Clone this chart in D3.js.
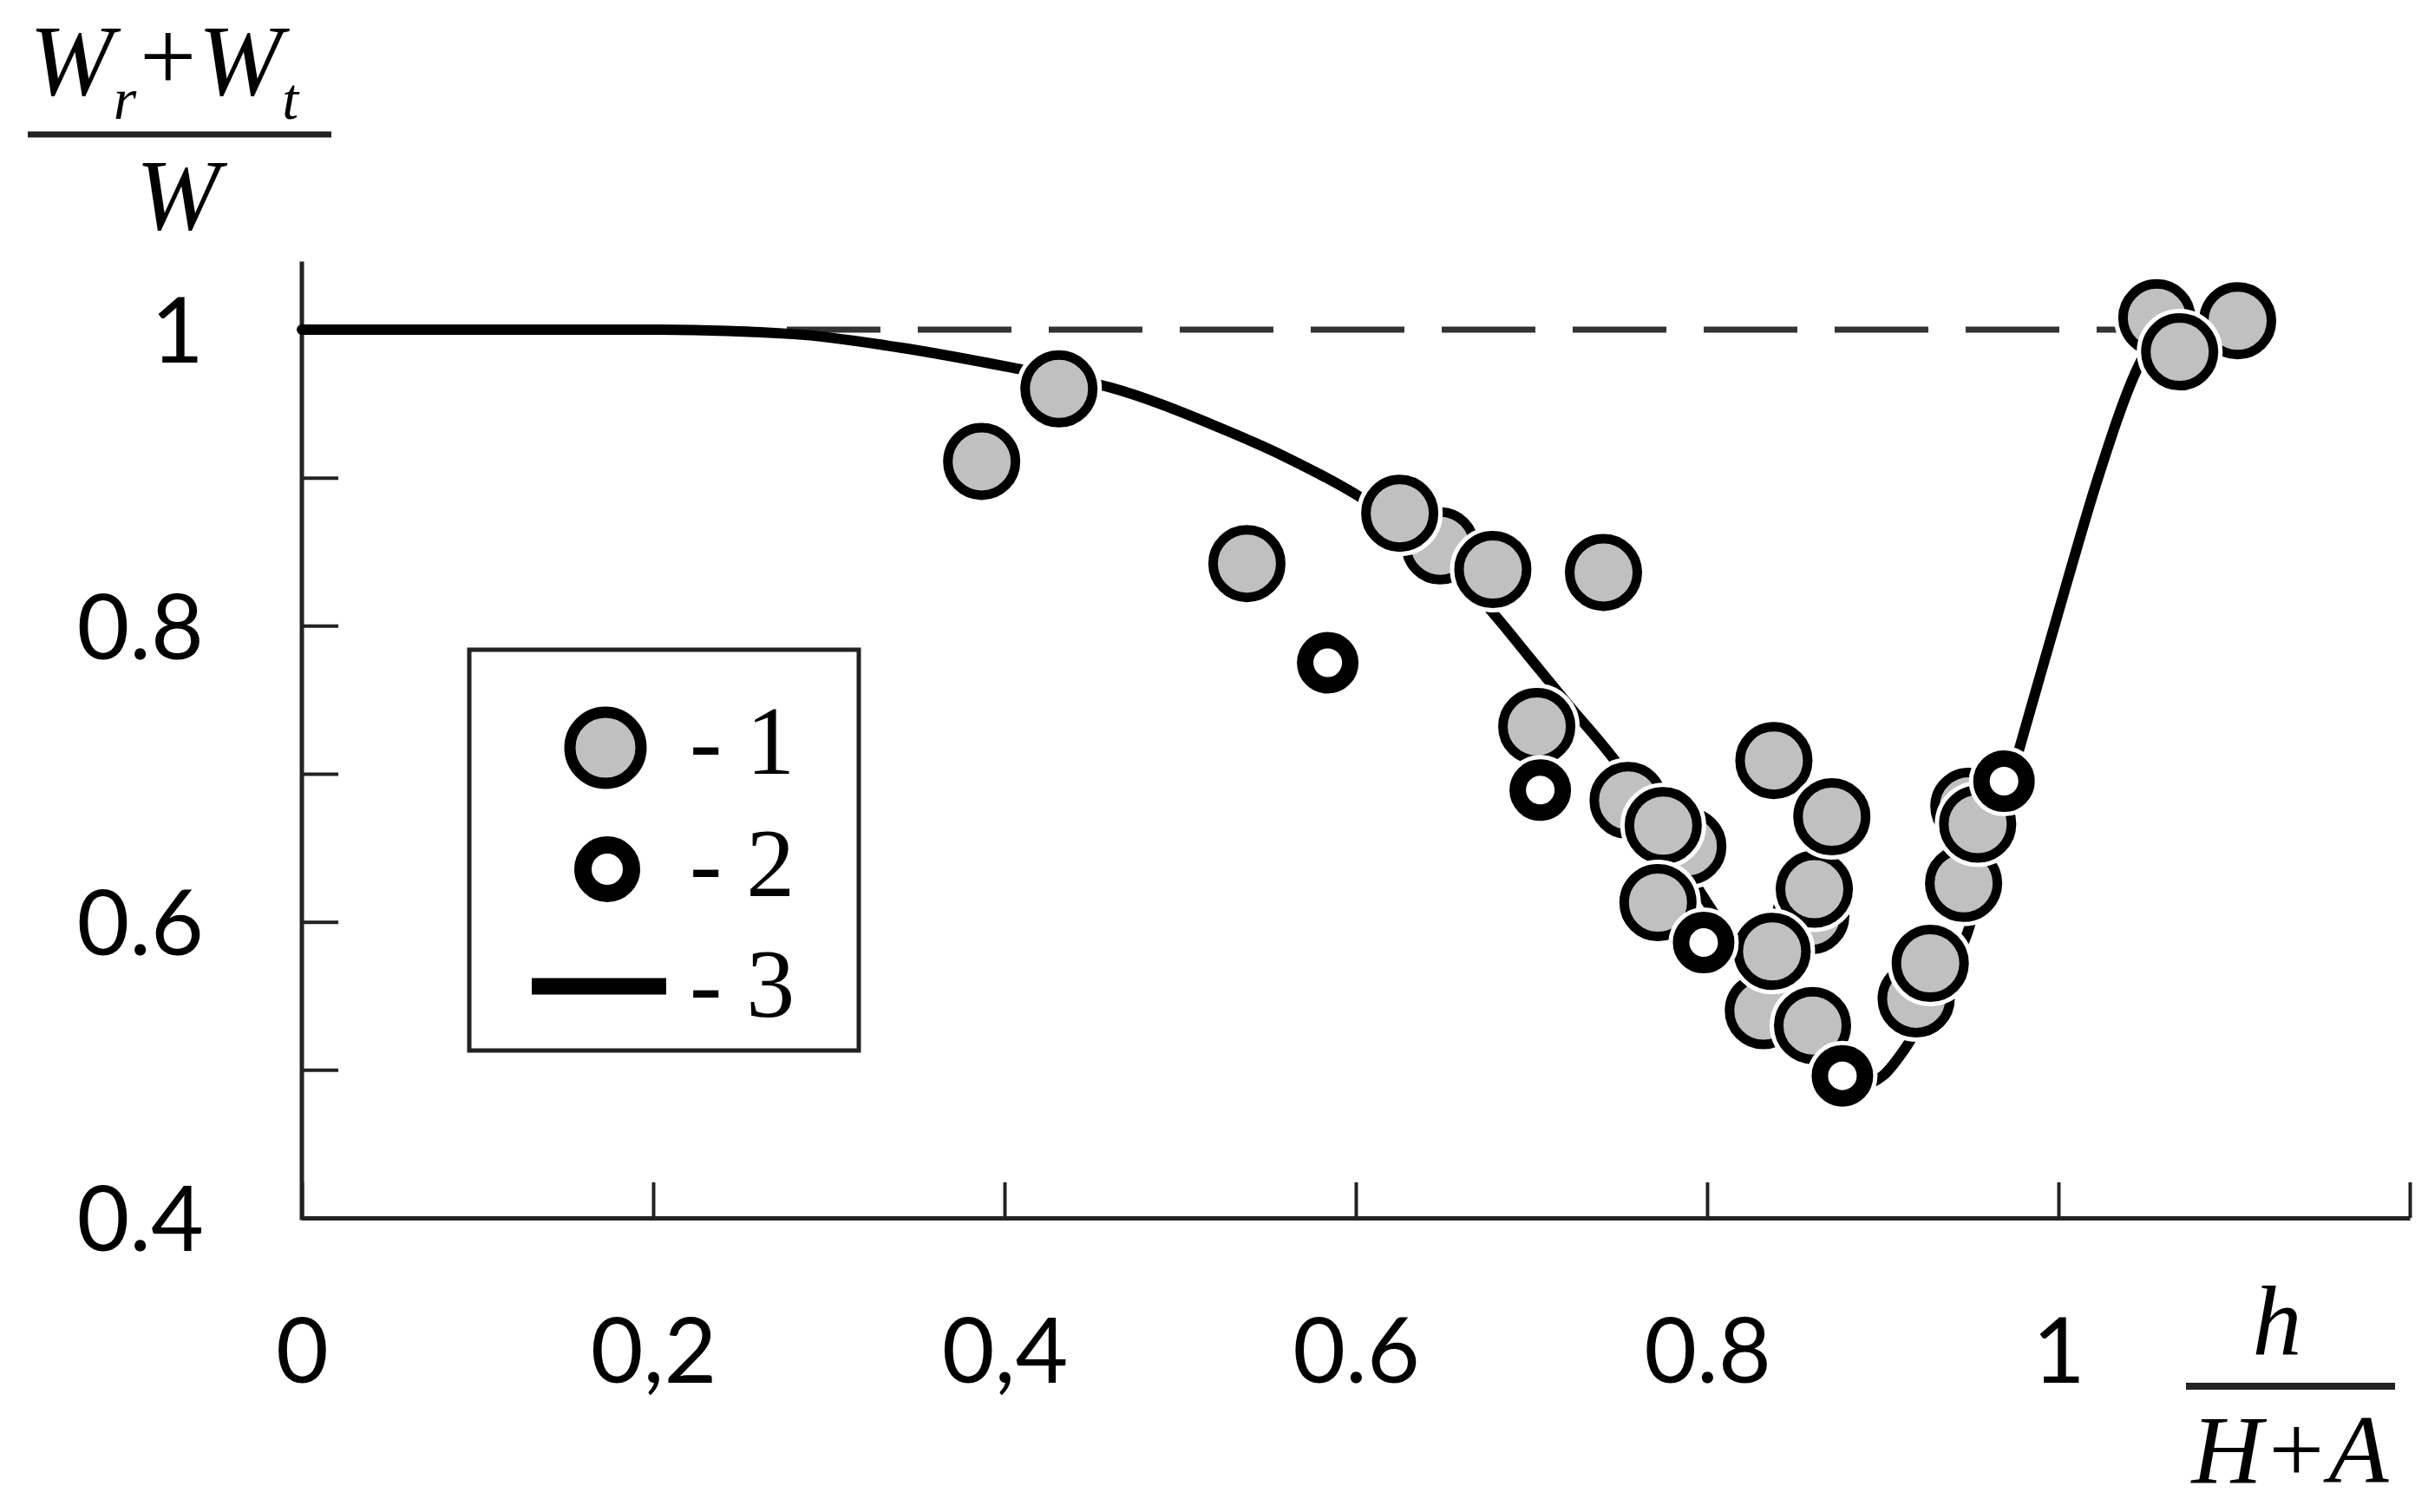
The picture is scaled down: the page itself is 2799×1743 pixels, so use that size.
<!DOCTYPE html>
<html>
<head>
<meta charset="utf-8">
<script src="https://cdn.jsdelivr.net/npm/d3@7"></script>
<style>
  body { margin: 0; background: #fff; }
  svg { display: block; }
  .serif { font-family: 'Liberation Serif', 'Times New Roman', serif; }
  .tick text { font-family: Lato, 'Open Sans', sans-serif; fill: #000; }
</style>
</head>
<body>
<svg id="chart" width="2799" height="1743"></svg>
<script>
// axis ticks and labels
const xTicks = [0, 0.2, 0.4, 0.6, 0.8, 1.0, 1.2]
const xTickLabels = ['0', '0,2', '0,4', '0.6', '0.8', '1', '']
const yTicks = [0.4, 0.5, 0.6, 0.7, 0.8, 0.9, 1.0]
const yTickLabels = ['0.4', '', '0.6', '', '0.8', '', '1']

// series 1 - grey circles (h/(H+A), (Wr+Wt)/W)
const series1 = [
  [0.387, 0.911], [0.431, 0.960], [0.538, 0.842], [0.648, 0.854],
  [0.625, 0.876], [0.678, 0.838], [0.741, 0.836], [0.703, 0.732],
  [0.755, 0.682], [0.789, 0.651], [0.775, 0.665], [0.772, 0.613],
  [0.838, 0.709], [0.859, 0.604], [0.861, 0.622], [0.871, 0.671],
  [0.832, 0.540], [0.860, 0.530], [0.837, 0.580],
  [0.919, 0.548], [0.927, 0.572], [0.946, 0.626], [0.949, 0.678], [0.954, 0.666],
  [1.056, 1.008], [1.102, 1.006], [1.069, 0.985]
]

// series 2 - open circles
const series2 = [
  [0.584, 0.775], [0.705, 0.689], [0.798, 0.586], [0.877, 0.496], [0.969, 0.695]
]

// series 3 - calculated curve
const curve3 = [
  [0, 1.0], [0.1, 1.0], [0.2, 1.0], [0.28, 0.997], [0.34, 0.988], [0.41, 0.973],
  [0.46, 0.961], [0.52, 0.935], [0.56, 0.914], [0.605, 0.885], [0.65, 0.845],
  [0.68, 0.806], [0.70, 0.777], [0.72, 0.748], [0.75, 0.705], [0.78, 0.650],
  [0.815, 0.586], [0.85, 0.530], [0.875, 0.497], [0.888, 0.490], [0.90, 0.496],
  [0.913, 0.515], [0.93, 0.550], [0.948, 0.592], [0.962, 0.652], [0.977, 0.714],
  [0.99, 0.768], [1.005, 0.830], [1.022, 0.898], [1.045, 0.974], [1.055, 0.996]
]

// reference level (dashed)
const refLine = [[0, 1.0], [1.05, 1.0]]

const legendItems = ['- 1', '- 2', '- 3']

const svg = d3.select('#chart')

const x = d3.scaleLinear().domain([0, 1.2]).range([348, 2778])
const y = d3.scaleLinear().domain([0.4, 1.0]).range([1404, 380])
const yTop = 1.046

const line = d3.line()
  .x(d => x(d[0]))
  .y(d => y(d[1]))

// dashed line at 1
svg.append('path')
  .datum(refLine)
  .attr('d', line)
  .attr('fill', 'none')
  .attr('stroke', '#333')
  .attr('stroke-width', 7)
  .attr('stroke-dasharray', '108,43')
  .attr('stroke-dashoffset', 45)

// x axis
const xAxis = svg.append('g')
  .attr('transform', `translate(0,${y(0.4)})`)
  .call(d3.axisBottom(x)
    .tickValues(xTicks)
    .tickSize(-41)
    .tickSizeOuter(0)
    .tickFormat((d, i) => xTickLabels[i]))
xAxis.select('.domain').attr('stroke', '#222').attr('stroke-width', 5)
xAxis.selectAll('.tick line').attr('stroke', '#222').attr('stroke-width', 4)
xAxis.selectAll('.tick text')
  .attr('y', 190)
  .attr('dy', null)
  .attr('font-size', 105)

// y axis
const yAxis = svg.append('g')
  .attr('transform', `translate(${x(0)},0)`)
  .call(d3.axisLeft(y)
    .tickValues(yTicks)
    .tickSize(-42)
    .tickSizeOuter(0)
    .tickFormat((d, i) => yTickLabels[i]))
yAxis.select('.domain').remove()
yAxis.append('line')
  .attr('y1', y(0.4) + 2.5)
  .attr('y2', y(yTop))
  .attr('stroke', '#222')
  .attr('stroke-width', 5)
yAxis.selectAll('.tick line').attr('stroke', '#222').attr('stroke-width', 4)
yAxis.selectAll('.tick text')
  .attr('x', -113)
  .attr('dy', '0.36em')
  .attr('font-size', 105)

// curve 3
svg.append('path')
  .datum(curve3)
  .attr('d', line.curve(d3.curveMonotoneX))
  .attr('fill', 'none')
  .attr('stroke', '#000')
  .attr('stroke-width', 12)
  .attr('stroke-linecap', 'round')

// points with a thin white halo
function drawPoints (data, r, sw, fill) {
  const g = svg.append('g')
  data.forEach(d => {
    g.append('circle')
      .attr('cx', x(d[0]))
      .attr('cy', y(d[1]))
      .attr('r', r)
      .attr('fill', '#fff')
      .attr('stroke', '#fff')
      .attr('stroke-width', sw + 10)
    g.append('circle')
      .attr('cx', x(d[0]))
      .attr('cy', y(d[1]))
      .attr('r', r)
      .attr('fill', fill)
      .attr('stroke', '#000')
      .attr('stroke-width', sw)
  })
}
drawPoints(series1, 39, 11, '#c0c0c0')
drawPoints(series2, 26, 19, '#fff')

// legend
const legend = svg.append('g')
legend.append('rect')
  .attr('x', 541).attr('y', 749)
  .attr('width', 449).attr('height', 462)
  .attr('fill', '#fff')
  .attr('stroke', '#222')
  .attr('stroke-width', 5)
legend.append('circle')
  .attr('cx', 698).attr('cy', 862).attr('r', 41)
  .attr('fill', '#c0c0c0').attr('stroke', '#000').attr('stroke-width', 13)
legend.append('circle')
  .attr('cx', 700).attr('cy', 1002).attr('r', 28)
  .attr('fill', '#fff').attr('stroke', '#000').attr('stroke-width', 20)
legend.append('line')
  .attr('x1', 613).attr('x2', 768)
  .attr('y1', 1137).attr('y2', 1137)
  .attr('stroke', '#000').attr('stroke-width', 19)
legend.selectAll('text.item')
  .data(legendItems)
  .join('text')
  .attr('class', 'item serif')
  .attr('x', 795)
  .attr('y', (d, i) => [892, 1033, 1172][i])
  .attr('font-size', 112)
  .text(d => d)

// y axis title: (Wr + Wt) / W
const yt = svg.append('g').attr('class', 'serif').attr('fill', '#000')
const num = yt.append('text')
  .attr('x', 34).attr('y', 109)
  .attr('font-size', 116)
  .attr('font-style', 'italic')
num.append('tspan').text('W')
num.append('tspan').attr('dy', 28).attr('font-size', 68).text('r')
num.append('tspan').attr('dx', 4).attr('dy', -33).attr('font-style', 'normal').text('+')
num.append('tspan').attr('dx', 2).attr('dy', 5).text('W')
num.append('tspan').attr('dy', 28).attr('font-size', 68).text('t')
yt.append('line')
  .attr('x1', 32).attr('x2', 382).attr('y1', 155).attr('y2', 155)
  .attr('stroke', '#222').attr('stroke-width', 7)
yt.append('text').attr('x', 205).attr('y', 264).attr('font-size', 116)
  .attr('font-style', 'italic')
  .attr('text-anchor', 'middle').text('W')

// x axis title: h / (H+A)
const xt = svg.append('g').attr('class', 'serif').attr('font-style', 'italic').attr('fill', '#000')
xt.append('text').attr('x', 2625).attr('y', 1562).attr('font-size', 114)
  .attr('text-anchor', 'middle').text('h')
xt.append('line')
  .attr('x1', 2520).attr('x2', 2761).attr('y1', 1598).attr('y2', 1598)
  .attr('stroke', '#222').attr('stroke-width', 8)
xt.append('text').attr('x', 2640).attr('y', 1709).attr('font-size', 113)
  .attr('text-anchor', 'middle').text('H+A')
</script>
</body>
</html>
